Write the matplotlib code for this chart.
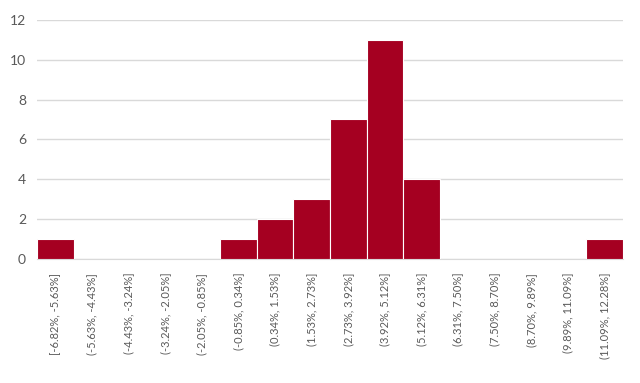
import matplotlib.pyplot as plt

# histogram bins (returns) and counts
bins = ["[-6.82%, -5.63%]", "(-5.63%, -4.43%]", "(-4.43%, -3.24%]", "(-3.24%, -2.05%]",
        "(-2.05%, -0.85%]", "(-0.85%, 0.34%]", "(0.34%, 1.53%]", "(1.53%, 2.73%]",
        "(2.73%, 3.92%]", "(3.92%, 5.12%]", "(5.12%, 6.31%]", "(6.31%, 7.50%]",
        "(7.50%, 8.70%]", "(8.70%, 9.89%]", "(9.89%, 11.09%]", "(11.09%, 12.28%]"]
counts = [1, 0, 0, 0, 0, 1, 2, 3, 7, 11, 4, 0, 0, 0, 0, 1]
yticks = [0, 2, 4, 6, 8, 10, 12]

plt.rcParams['font.family'] = ['Lato', 'DejaVu Sans']

fig = plt.figure(figsize=(6.4, 3.83), dpi=100)
ax = fig.add_axes([0.058, 0.324, 0.915, 0.624])

x = range(len(bins))
ax.bar(x, counts, width=1.0, color='#A50021', edgecolor='white', linewidth=0.8, zorder=3)

ax.set_xlim(-0.5, len(bins) - 0.5)
ax.set_ylim(0, 12)
ax.set_yticks(yticks)
ax.set_xticks(list(x))
ax.set_xticklabels(bins, rotation=90, fontsize=8, color='#595959')
ax.tick_params(axis='y', labelsize=10, colors='#595959', length=0, pad=8)
ax.tick_params(axis='x', length=0, pad=10)

ax.grid(axis='y', color='#D9D9D9', linewidth=1, zorder=0)
for s in ['top', 'left', 'right']:
    ax.spines[s].set_visible(False)
ax.spines['bottom'].set_color('#D9D9D9')

fig.savefig('out.png', dpi=100)
